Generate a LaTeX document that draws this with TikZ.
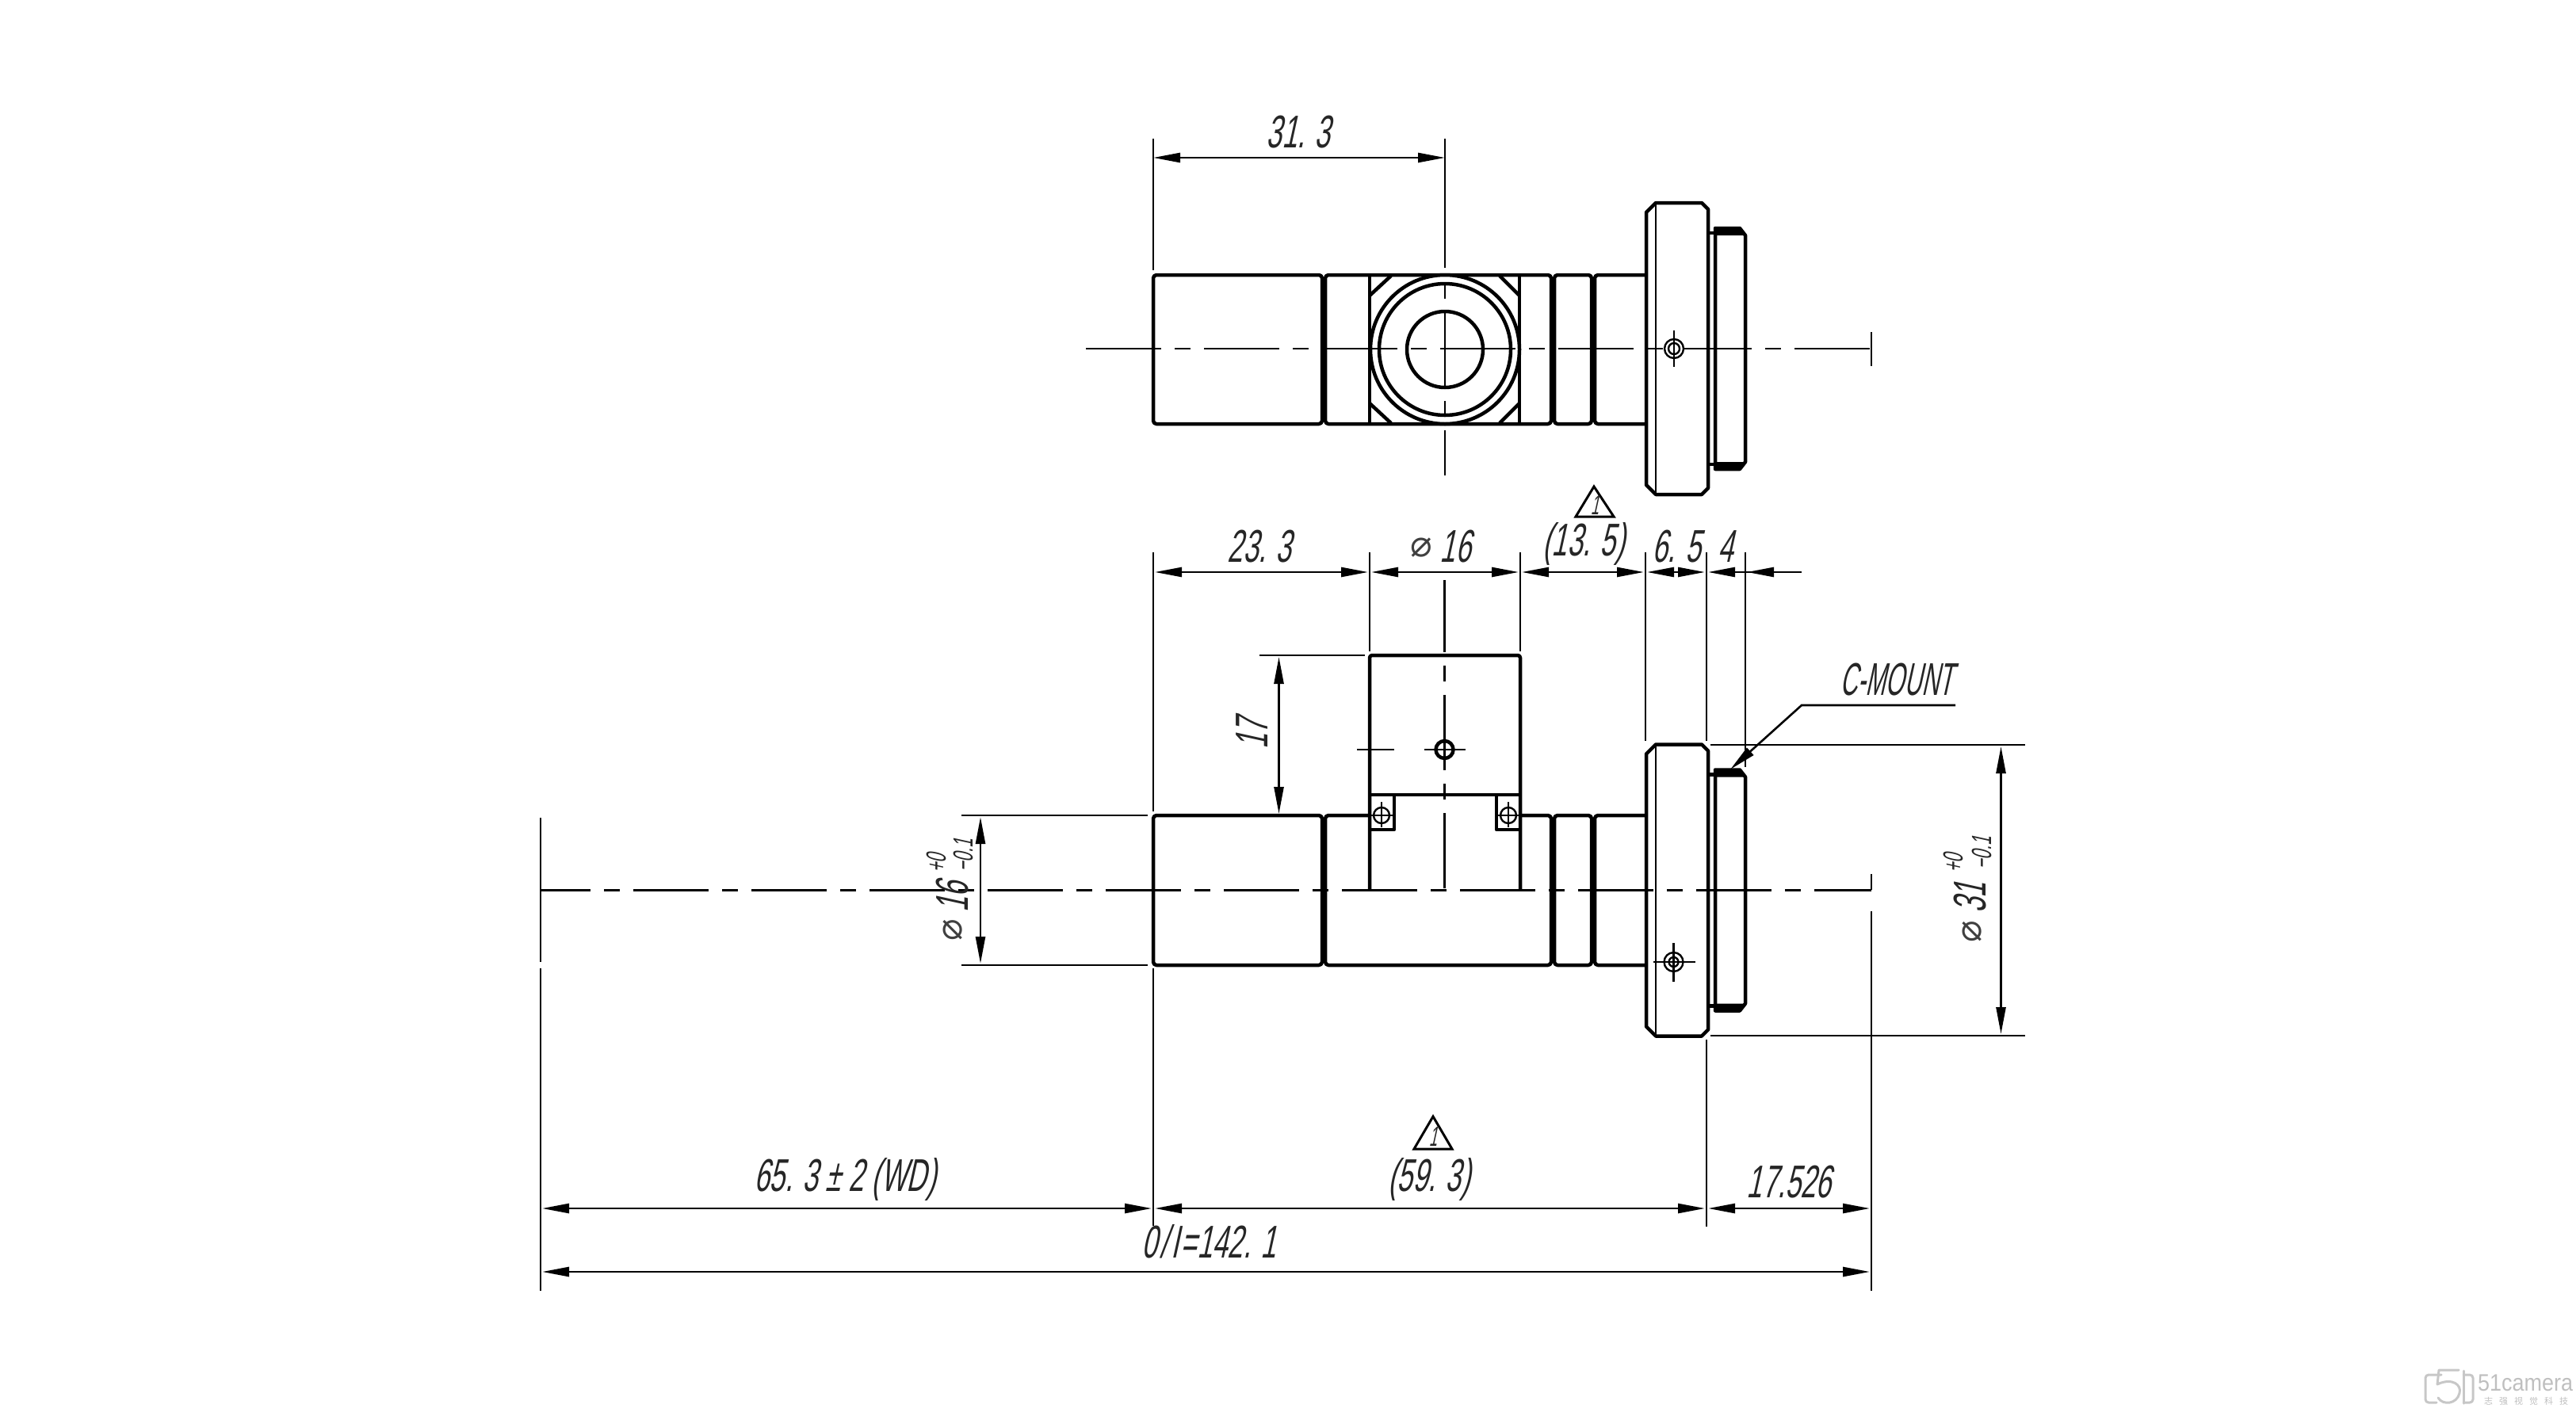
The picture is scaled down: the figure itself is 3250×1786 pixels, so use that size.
\documentclass[tikz,border=0pt]{standalone}
\usepackage{fontspec}
\usetikzlibrary{arrows.meta}
\newfontfamily\cadfont[FakeStretch=0.6,FakeSlant=0.22]{Liberation Sans}
\newfontfamily\cadnarrow[FakeStretch=0.52,FakeSlant=0.22]{Liberation Sans}
\newfontfamily\symfont{DejaVu Sans}
\newfontfamily\logofont[FakeStretch=0.9]{Liberation Sans}
\newfontfamily\cjk{Noto Sans CJK SC}
\tikzset{
	partline/.style={line width=4.5pt, line join=round},
	extline/.style={line width=2.4pt},
	axisline/.style={line width=2.8pt, dash pattern=on 95pt off 17pt on 20pt off 17pt},
	dimline/.style={line width=2.6pt, {Triangle[length=34pt,width=12pt]}-{Triangle[length=34pt,width=12pt]}},
	dimtext/.style={inner sep=0pt, text=black!85, font=\cadfont\fontsize{58}{64}\selectfont},
	toltext/.style={inner sep=0pt, text=black!85, font=\cadfont\fontsize{35}{40}\selectfont},
	diatext/.style={inner sep=0pt, text=black!75, font=\symfont\fontsize{46}{50}\selectfont},
	marktext/.style={inner sep=0pt, text=black!85, font=\cadnarrow\fontsize{35}{40}\selectfont},
	logoline/.style={line width=3pt, draw=black!22, line cap=round, line join=round},
}
\begin{document}
\begin{tikzpicture}[x=1pt,y=-1pt]
	\useasboundingbox (0,0) rectangle (3250,1786);
	\foreach \cy in {440,1123.5} {
		\begin{scope}[shift={(0,\cy)}]
			\draw[partline] (2077,-172) -- (2089,-184) -- (2147,-184) -- (2155,-176) -- (2155,176) -- (2147,184) -- (2089,184) -- (2077,172) -- cycle;
			\draw[extline] (2089,-184) -- (2089,184);
			\draw[partline] (2155,-146) -- (2164,-146);
			\draw[partline] (2155,146) -- (2164,146);
			\fill (2164,-152) -- (2195,-152) -- (2202,-143) -- (2164,-143) -- cycle;
			\fill (2164,152) -- (2195,152) -- (2202,143) -- (2164,143) -- cycle;
			\draw[partline] (2164,-152) -- (2195,-152) -- (2202,-143) -- (2202,143) -- (2195,152) -- (2164,152) -- cycle;
		\end{scope}
	}
	\foreach \xa/\xb in {1455/1668, 1672/1957, 1961/2008} {
		\draw[partline, rounded corners=4pt] (\xa,347) rectangle (\xb,535);
	}
	\draw[partline, rounded corners=4pt] (2077,347) -- (2012,347) -- (2012,535) -- (2077,535);
	\draw[partline] (1728,347) -- (1728,535);
	\draw[partline] (1917,347) -- (1917,535);
	\draw[partline] (1728,373) -- (1755,348);
	\draw[partline] (1917,373) -- (1892,348);
	\draw[partline] (1728,509) -- (1755,534);
	\draw[partline] (1917,509) -- (1892,534);
	\foreach \r in {94,83,48} {
		\draw[partline, fill=white] (1823,441) circle (\r);
	}
	\draw[axisline] (1370,440) -- (2361,440);
	\draw[extline] (2361,419) -- (2361,462);
	\draw[axisline, dash phase=38pt] (1823,600) -- (1823,357);
	\draw[extline] (1823,175) -- (1823,338);
	\draw[extline] (1455,175) -- (1455,341);
	\draw[dimline] (1455,199) -- (1823,199);
	\node[dimtext] (dimTop) at (1638,167) {31. 3};
	\draw[extline, fill=white] (2112,440) circle (12);
	\draw[extline] (2112,440) circle (7);
	\draw[extline] (2112,417) -- (2112,463);

	\draw[partline, rounded corners=4pt] (1728,1029) -- (1672,1029) -- (1672,1218) -- (1957,1218) -- (1957,1029) -- (1918,1029);
	\draw[partline, rounded corners=4pt] (1455,1029) rectangle (1668,1218);
	\draw[partline, rounded corners=4pt] (1961,1029) rectangle (2008,1218);
	\draw[partline, rounded corners=4pt] (2076,1029) -- (2012,1029) -- (2012,1218) -- (2076,1218);
	\draw[partline, rounded corners=3pt] (1728,1123) -- (1728,827) -- (1918,827) -- (1918,1123);
	\draw[partline] (1728,1003) -- (1918,1003);
	\draw[partline] (1728,1047) -- (1759,1047) -- (1759,1003);
	\draw[partline] (1918,1047) -- (1888,1047) -- (1888,1003);
	\foreach \hx in {1743,1903} {
		\draw[extline] (\hx,1029) circle (10);
		\draw[extline] (\hx,1012) -- (\hx,1044);
		\draw[extline] (\hx-15,1029) -- (\hx+15,1029);
	}
	\draw[axisline, dash phase=32pt] (682,1123.5) -- (2361,1123.5);
	\draw[axisline] (1822.5,1121) -- (1822.5,732);
	\draw[partline] (1822.5,946) circle (11);
	\draw[extline] (1712,946) -- (1759,946);
	\draw[extline] (1797,946) -- (1849,946);
	\draw[extline] (2111.5,1214) circle (12);
	\draw[extline] (2111.5,1214) circle (6);
	\draw[extline] (2086,1214) -- (2139,1214);
	\draw[extline] (2111.5,1190) -- (2111.5,1239);

	\draw[extline] (1455,697) -- (1455,1024);
	\draw[extline] (1455,1222) -- (1455,1547);
	\draw[extline] (1728,697) -- (1728,822);
	\draw[extline] (1918,697) -- (1918,822);
	\draw[extline] (2076,697) -- (2076,935);
	\draw[extline] (2153,697) -- (2153,935);
	\draw[extline] (2202,697) -- (2202,968);
	\draw[extline] (1589,827) -- (1722,827);
	\draw[extline] (2158,940) -- (2555,940);
	\draw[extline] (2158,1307) -- (2555,1307);
	\draw[extline] (1213,1029) -- (1448,1029);
	\draw[extline] (1213,1218) -- (1448,1218);
	\draw[extline] (682,1032) -- (682,1214);
	\draw[extline] (682,1222) -- (682,1629);
	\draw[extline] (2153,1312) -- (2153,1548);
	\draw[extline] (2361,1103) -- (2361,1123);
	\draw[extline] (2361,1150) -- (2361,1629);

	\draw[dimline] (1457,722) -- (1726,722);
	\draw[dimline] (1730,722) -- (1916,722);
	\draw[dimline] (1920,722) -- (2074,722);
	\draw[line width=2.6pt, -{Triangle[length=34pt,width=12pt]}] (2100,722) -- (2151,722);
	\draw[line width=2.6pt, -{Triangle[length=34pt,width=12pt]}] (2273,722) -- (2155,722);
	\draw[line width=2.6pt, -{Triangle[length=34pt,width=12pt]}] (2273,722) -- (2204,722);
	\draw[line width=2.6pt, {Triangle[length=34pt,width=12pt]}-] (2078,722) -- (2100,722);
	\node[dimtext] (dimBody) at (1589,690) {23. 3};
	\node[diatext] (diaBlockSym) at (1793,691) {⌀};
	\node[dimtext] (diaBlock) at (1836,690) {16};
	\node[dimtext] (dimSpan) at (1998,686) {(13. 5)};
	\node[dimtext] (dimFlange) at (2115,690) {6. 5};
	\node[dimtext] (dimRing) at (2177,690) {4};

	\draw[line width=3pt, line join=miter] (2011,614) -- (2036,652) -- (1988,652) -- cycle;
	\node[marktext] (markUpper) at (2012,637) {1};
	\draw[line width=3pt, line join=miter] (1808,1409) -- (1832,1450) -- (1784,1450) -- cycle;
	\node[marktext] (markLower) at (1808,1434) {1};

	\draw[dimline] (1613.5,829) -- (1613.5,1027);
	\node[dimtext, rotate=90] (dimHeight) at (1580,926) {17};

	\coordinate (leaderEnd) at (2467,890);
	\coordinate (leaderBend) at (2273,890);
	\coordinate (leaderTip) at (2183,971);
	\draw[line width=2.6pt, -{Triangle[length=34pt,width=12pt]}] (leaderEnd) -- (leaderBend) -- (leaderTip);
	\node[dimtext, font=\cadnarrow\fontsize{58}{64}\selectfont] (mountLabel) at (2393,858) {C-MOUNT};

	\draw[dimline] (2524.5,942) -- (2524.5,1305);
	\node[diatext, rotate=90] (diaMountSym) at (2488,1176) {⌀};
	\node[dimtext, rotate=90] (diaMount) at (2486,1133) {31};
	\node[toltext, rotate=90] (tolMountUp) at (2464,1090) {+0};
	\node[toltext, rotate=90] (tolMountLow) at (2500,1077) {−0.1};

	\draw[dimline] (1237,1031) -- (1237,1216);
	\node[diatext, rotate=90] (diaBarrelSym) at (1202,1174) {⌀};
	\node[dimtext, rotate=90] (diaBarrel) at (1202,1132) {16};
	\node[toltext, rotate=90] (tolBarrelUp) at (1181,1090) {+0};
	\node[toltext, rotate=90] (tolBarrelLow) at (1215,1080) {−0.1};

	\draw[dimline] (684,1525) -- (1453,1525);
	\draw[dimline] (1457,1525) -- (2151,1525);
	\draw[dimline] (2155,1525) -- (2359,1525);
	\draw[dimline] (684,1605) -- (2359,1605);
	\node[dimtext] (dimWork) at (1066,1488) {65. 3 ± 2 (WD)};
	\node[dimtext] (dimLens) at (1803,1488) {(59. 3)};
	\node[dimtext] (dimFlangeBack) at (2257,1492) {17.526};
	\node[dimtext] (dimTotal) at (1525,1567) {0\hspace{4pt}/\hspace{4pt}I\hspace{3pt}=142. 1};

	\draw[logoline, rounded corners=4pt] (3080,1735) -- (3060,1735) -- (3060,1770) -- (3074,1770);
	\draw[logoline] (3102,1729) -- (3077,1729) -- (3075,1747) .. controls (3094,1738) and (3106,1748) .. (3103,1758) .. controls (3100,1772) and (3082,1774) .. (3076,1764);
	\draw[logoline] (3108,1730) -- (3108,1771);
	\draw[logoline, rounded corners=4pt] (3108,1735) -- (3120,1735) -- (3120,1770) -- (3108,1770);
	\node[inner sep=0pt, text=black!25, font=\logofont\fontsize{30}{32}\selectfont] (logoName) at (3186,1745) {51camera};
	\node[inner sep=0pt, text=black!25, font=\cjk\fontsize{11}{13}\selectfont] (logoCn) at (3187,1768) {志\hspace{8pt}强\hspace{8pt}视\hspace{8pt}觉\hspace{8pt}科\hspace{8pt}技};
\end{tikzpicture}
\end{document}
